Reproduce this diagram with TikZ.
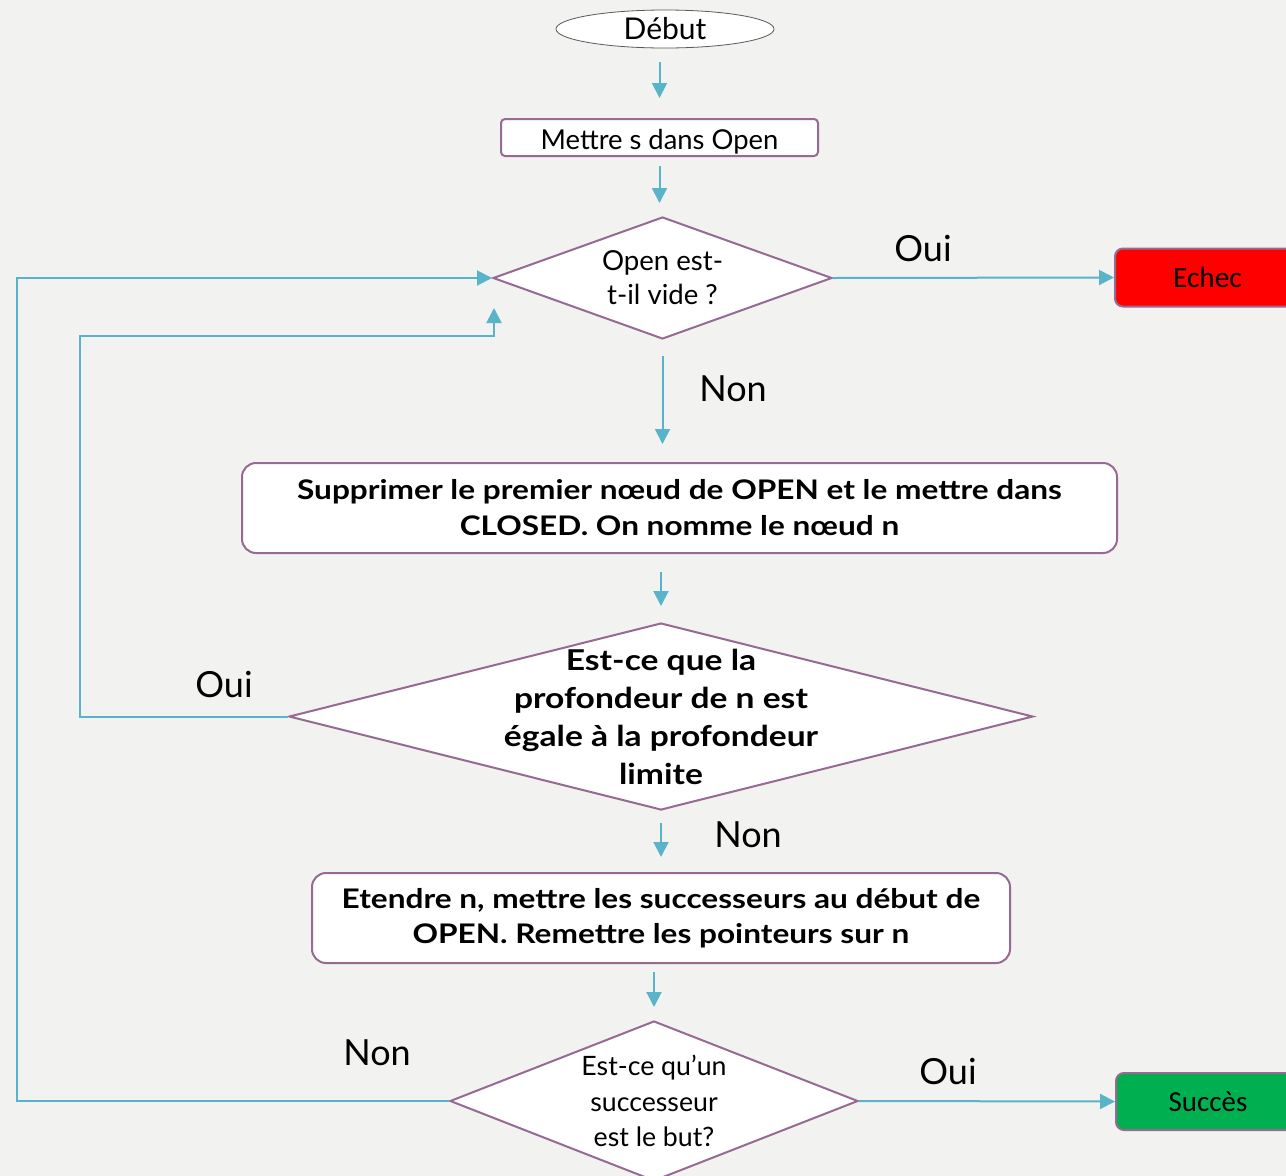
\documentclass[tikz,border=0pt]{standalone}
\usepackage{fontspec}
\setmainfont{Lato}[BoldFeatures={FakeStretch=1.17}]
\newfontfamily\calib{Carlito}
\usetikzlibrary{arrows.meta,shapes.geometric,calc}
\definecolor{bg}{HTML}{F2F2F0}
\definecolor{flow}{HTML}{5AB4C9}
\definecolor{frame}{HTML}{966A92}
\definecolor{fail}{HTML}{FF0000}
\definecolor{ok}{HTML}{00B050}

\begin{document}
\begin{tikzpicture}[x=1pt,y=-1pt,
  arr/.style={draw=flow,line width=2pt,-{Triangle[length=15pt,width=15pt]}},
  box/.style={draw=frame,line width=2pt,fill=white,rectangle,rounded corners=#1,inner sep=0pt,align=center},
  decision/.style={draw=frame,line width=2pt,fill=white,diamond,inner sep=0pt},
  lbl/.style={font=\fontsize{36}{42}\selectfont,inner sep=0pt}
]
\fill[bg] (0,0) rectangle (1286,1176);
\useasboundingbox (0,0) rectangle (1286,1176);

% start
\node[ellipse,draw=gray!70!black,line width=0.8pt,fill=white,minimum width=218pt,minimum height=38pt,inner sep=0pt,font=\fontsize{30}{36}\selectfont] (deb) at (665,29) {Début};

% initialisation
\node[box=4pt,minimum width=317pt,minimum height=37pt,text height=25pt,text depth=2pt,font=\fontsize{27.4}{30}\selectfont] (mettre) at (659.5,137.5) {Mettre s dans Open};

% is OPEN empty?
\node[decision,minimum width=339pt,minimum height=122pt,
  label={[align=center,font=\fontsize{27.6}{34}\selectfont]center:Open est-\\t-il vide ?}] (vide) at (662.5,278) {};

\node[box=8pt,fill=fail,minimum width=185pt,minimum height=58pt,font=\calib\fontsize{29.3}{34}\selectfont] (echec) at (1207.5,277.5) {Echec};

% remove first node
\node[box=14pt,minimum width=875pt,minimum height=90pt,font=\bfseries\fontsize{27}{36}\selectfont] (supp) at (679.5,508) {Supprimer le premier nœud de OPEN et le mettre dans\\CLOSED. On nomme le nœud n};

% depth limit test
\node[decision,minimum width=744pt,minimum height=187pt,
  label={[align=center,font=\bfseries\fontsize{28.7}{38}\selectfont]center:Est-ce que la\\profondeur de n est\\égale à la profondeur\\limite}] (prof) at (661,716.5) {};

% expansion
\node[box=14pt,minimum width=698pt,minimum height=90pt,font=\bfseries\fontsize{27}{35}\selectfont] (etendre) at (661,918) {Etendre n, mettre les successeurs au début de\\OPEN. Remettre les pointeurs sur n};

% goal test
\node[decision,minimum width=408pt,minimum height=160pt,
  label={[align=center,font=\fontsize{26.7}{35.5}\selectfont]center:Est-ce qu’un\\successeur\\est le but?}] (but) at (654,1101) {};

\node[box=8pt,fill=ok,minimum width=184pt,minimum height=57pt,font=\calib\fontsize{29}{34}\selectfont] (succes) at (1208,1101.5) {Succès};

% main flow
\draw[arr,shorten <=14pt,shorten >=20pt] (deb.south -| mettre.north) -- (mettre.north);
\draw[arr,shorten <=9pt,shorten >=13pt] (mettre.south) -- (mettre.south |- vide.north);
\draw[arr,shorten <=16pt,shorten >=18pt] (vide.south) -- (vide.south |- supp.north);
\draw[arr,shorten <=18pt,shorten >=16pt] (prof.north |- supp.south) -- (prof.north);
\draw[arr,shorten <=12pt,shorten >=15pt] (prof.south) -- (prof.south |- etendre.north);
\draw[arr,shorten <=8pt,shorten >=13pt] (but.north |- etendre.south) -- (but.north);

\draw[arr] (vide.east) -- (echec.west);
\draw[arr] (but.east) -- (succes.west);

% loops back to the test on OPEN
\coordinate (outer) at (17,1102);
\draw[arr] (but.west) -- (but.west -| outer) |- (vide.west);

\coordinate (inner) at (80,336);
\coordinate (bend) at (494,336);
\coordinate (reentry) at (494,308);
\draw[arr] (prof.west) -| (inner) -- (bend) -- (reentry);

% branch labels
\node[lbl] (oui1) at (923,249) {Oui};
\node[lbl] (non1) at (733,389) {Non};
\node[lbl] (oui2) at (224,685) {Oui};
\node[lbl] (non2) at (748,835) {Non};
\node[lbl] (non3) at (377,1053) {Non};
\node[lbl] (oui3) at (948,1071) {Oui};
\end{tikzpicture}
\end{document}
